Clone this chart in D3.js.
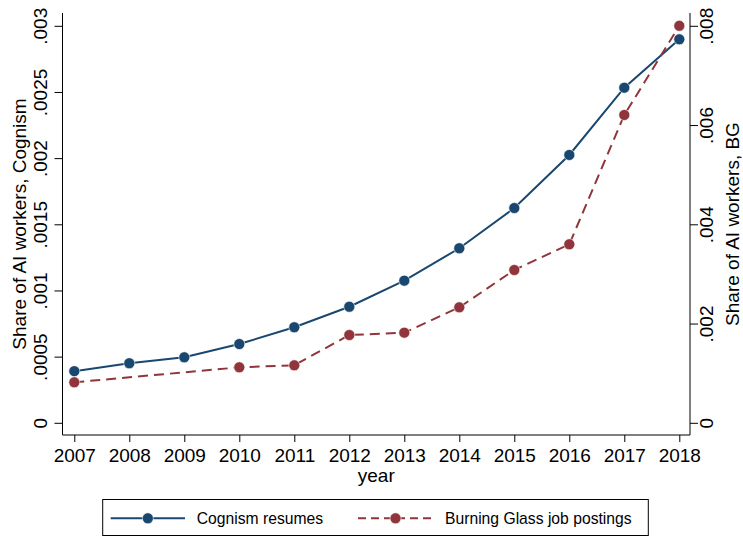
<!DOCTYPE html>
<html>
<head>
<meta charset="utf-8">
<script src="https://cdn.jsdelivr.net/npm/d3@7"></script>
<style>
  body { margin: 0; background: #fff; }
  svg { display: block; font-family: "Liberation Sans", Arial, Helvetica, sans-serif; }
</style>
</head>
<body>
<div id="chart"></div>
<script>
// data
const years = [2007, 2008, 2009, 2010, 2011, 2012, 2013, 2014, 2015, 2016, 2017, 2018];
const cognism = [0.00039, 0.00045, 0.000495, 0.000595, 0.000722, 0.000877, 0.001074, 0.001319, 0.001623, 0.002024, 0.002532, 0.002898];
// Burning Glass has no observation for 2008 and 2009
const bgYears = [2007, 2010, 2011, 2012, 2013, 2014, 2015, 2016, 2017, 2018];
const burningGlass = [0.000816, 0.001118, 0.001159, 0.001769, 0.001816, 0.002327, 0.003079, 0.003597, 0.006203, 0.008];
const leftTicks = [0, 0.0005, 0.001, 0.0015, 0.002, 0.0025, 0.003];
const leftTickLabels = ["0", ".0005", ".001", ".0015", ".002", ".0025", ".003"];
const rightTicks = [0, 0.002, 0.004, 0.006, 0.008];
const rightTickLabels = ["0", ".002", ".004", ".006", ".008"];
const seriesNames = ["Cognism resumes", "Burning Glass job postings"];

const W = 743, H = 536;
const navy = "#1a476f", maroon = "#90353b";
const frame = { left: 62.5, right: 690, top: 13, bottom: 435 };

const svg = d3.select("#chart").append("svg")
    .attr("width", W)
    .attr("height", H);

const x = d3.scaleLinear().domain([2007, 2018]).range([74.3, 679.3]);
const yL = d3.scaleLinear().domain([0, 0.003]).range([422.8, 25.8]);
const yR = d3.scaleLinear().domain([0, 0.008]).range([422.8, 25.8]);

// axes
const xAxis = d3.axisBottom(x).tickValues(years).tickFormat(d3.format("d")).tickSize(7).tickPadding(5);
const lAxis = d3.axisLeft(yL).tickValues(leftTicks).tickFormat((d, i) => leftTickLabels[i]).tickSize(8);
const rAxis = d3.axisRight(yR).tickValues(rightTicks).tickFormat((d, i) => rightTickLabels[i]).tickSize(8);

const gx = svg.append("g").attr("transform", `translate(0,${frame.bottom})`).call(xAxis);
const gl = svg.append("g").attr("transform", `translate(${frame.left},0)`).call(lAxis);
const gr = svg.append("g").attr("transform", `translate(${frame.right},0)`).call(rAxis);

[gx, gl, gr].forEach(g => {
  g.select(".domain").remove();
  g.selectAll(".tick line").attr("stroke", "#000").attr("stroke-width", 1);
  g.selectAll(".tick text").attr("fill", "#000").style("font-size", "19px");
});

gx.selectAll(".tick text").attr("dy", "0.71em").attr("y", 14);

// rotated y tick labels, reading bottom to top
gl.selectAll(".tick text")
    .attr("x", null).attr("dy", null)
    .attr("transform", "translate(-16,0) rotate(-90)")
    .attr("text-anchor", "middle");
gr.selectAll(".tick text")
    .attr("x", null).attr("dy", null)
    .attr("transform", "translate(23,0) rotate(-90)")
    .attr("text-anchor", "middle");

// frame lines (no top border)
svg.append("line").attr("x1", frame.left).attr("x2", frame.left).attr("y1", frame.top).attr("y2", frame.bottom).attr("stroke", "#000");
svg.append("line").attr("x1", frame.right).attr("x2", frame.right).attr("y1", frame.top).attr("y2", frame.bottom).attr("stroke", "#000");
svg.append("line").attr("x1", frame.left).attr("x2", frame.right).attr("y1", frame.bottom).attr("y2", frame.bottom).attr("stroke", "#000");

// axis titles
svg.append("text")
    .attr("transform", `translate(25.5,${(frame.top + frame.bottom) / 2}) rotate(-90)`)
    .attr("text-anchor", "middle")
    .style("font-size", "19px")
    .text("Share of AI workers, Cognism");
svg.append("text")
    .attr("transform", `translate(739,${(frame.top + frame.bottom) / 2}) rotate(-90)`)
    .attr("text-anchor", "middle")
    .style("font-size", "19px")
    .text("Share of AI workers, BG");
svg.append("text")
    .attr("x", (frame.left + frame.right) / 2)
    .attr("y", 482)
    .attr("text-anchor", "middle")
    .style("font-size", "19px")
    .text("year");

// series
const cogData = years.map((yr, i) => ({ yr, v: cognism[i] }));
const bgData = bgYears.map((yr, i) => ({ yr, v: burningGlass[i] }));

const lineL = d3.line().x(d => x(d.yr)).y(d => yL(d.v));
const lineR = d3.line().x(d => x(d.yr)).y(d => yR(d.v));

svg.append("path").datum(cogData)
    .attr("d", lineL)
    .attr("fill", "none").attr("stroke", navy).attr("stroke-width", 2);
svg.append("path").datum(bgData)
    .attr("d", lineR)
    .attr("fill", "none").attr("stroke", maroon).attr("stroke-width", 2)
    .attr("stroke-dasharray", "10,6");

svg.append("g").selectAll("circle").data(cogData).join("circle")
    .attr("cx", d => x(d.yr)).attr("cy", d => yL(d.v)).attr("r", 5.5)
    .attr("fill", navy).attr("stroke", "#fff").attr("stroke-width", 0.6);
svg.append("g").selectAll("circle").data(bgData).join("circle")
    .attr("cx", d => x(d.yr)).attr("cy", d => yR(d.v)).attr("r", 5.5)
    .attr("fill", maroon).attr("stroke", "#fff").attr("stroke-width", 0.6);

// legend
const legend = svg.append("g");
legend.append("rect")
    .attr("x", 102.7).attr("y", 499.5).attr("width", 545.6).attr("height", 36)
    .attr("fill", "#fff").attr("stroke", "#000").attr("stroke-width", 1);

const legendItems = [
  { name: seriesNames[0], color: navy, dash: null, x0: 110.7, x1: 185, tx: 196.7 },
  { name: seriesNames[1], color: maroon, dash: "8,5", x0: 358, x1: 433, tx: 445 }
];
legendItems.forEach(it => {
  legend.append("line")
      .attr("x1", it.x0).attr("x2", it.x1).attr("y1", 518.3).attr("y2", 518.3)
      .attr("stroke", it.color).attr("stroke-width", 2)
      .attr("stroke-dasharray", it.dash);
  legend.append("circle")
      .attr("cx", (it.x0 + it.x1) / 2).attr("cy", 518.3).attr("r", 5.5)
      .attr("fill", it.color).attr("stroke", "#fff").attr("stroke-width", 0.6);
  legend.append("text")
      .attr("x", it.tx).attr("y", 524)
      .style("font-size", "15.7px")
      .text(it.name);
});
</script>
</body>
</html>
